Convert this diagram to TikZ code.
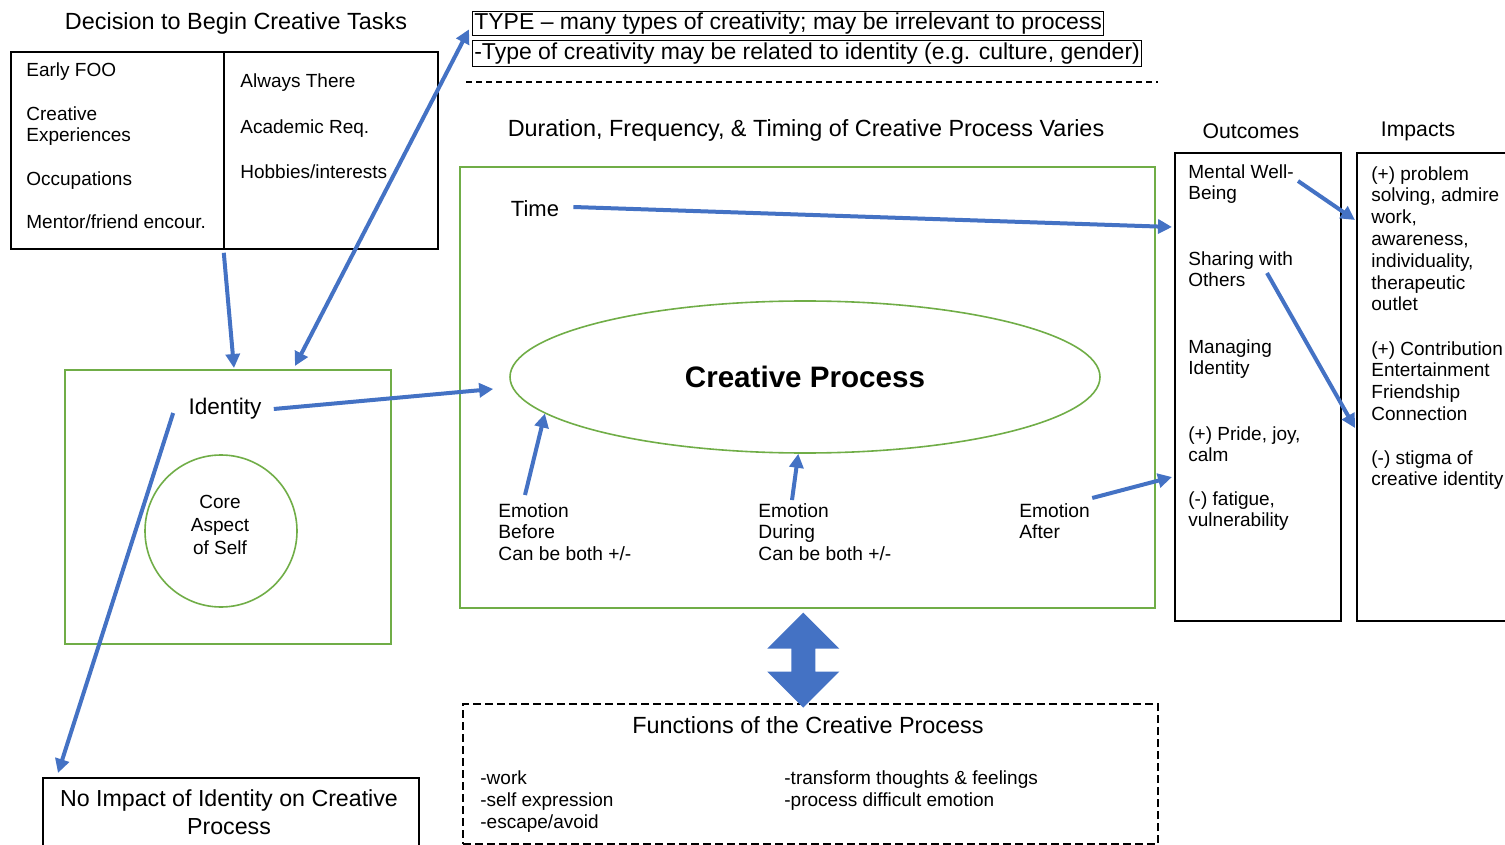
\documentclass[tikz,border=0pt]{standalone}
\usepackage{fontspec}
\setmainfont{Liberation Sans}
\usetikzlibrary{arrows.meta,calc,shapes.geometric}
\definecolor{arrowblue}{RGB}{68,114,196}
\definecolor{boxgreen}{RGB}{112,173,71}
\begin{document}
\begin{tikzpicture}[x=0.5pt,y=-0.5pt,
  sized/.style 2 args={minimum width=#1*0.5pt, minimum height=#2*0.5pt},
  blackbox/.style={draw=black, line width=0.9pt, anchor=north west, inner sep=0pt},
  greenbox/.style={draw=boxgreen, line width=0.8pt, anchor=north west, inner sep=0pt},
  head/.style={font=\fontsize{11.7}{14}\selectfont, inner sep=0pt},
  colhead/.style={font=\fontsize{10.6}{12.6}\selectfont, inner sep=0pt},
  item/.style={font=\fontsize{9.5}{10.9}\selectfont, anchor=north west, inner sep=0pt, align=left},
  typebox/.style={draw=black, line width=0.7pt, anchor=north west, inner xsep=0.8pt, inner ysep=0pt,
    font=\fontsize{11.5}{13}\selectfont},
  flow/.style={draw=arrowblue, line width=2pt, -{Triangle[length=7pt,width=7pt]}},
  flowboth/.style={draw=arrowblue, line width=2pt, {Triangle[length=7pt,width=7pt]}-{Triangle[length=7pt,width=7pt]}},
]
\useasboundingbox (0,0) rectangle (1505,845);
\clip (0,0) rectangle (1505,845);

% ---- decision to begin creative tasks ----
\node[head] (dectitle) at (236,23) {Decision to Begin Creative Tasks};
\node[blackbox, sized={213}{197}] (leftbox) at (10,51) {};
\node[blackbox, sized={214}{197}] (rightbox) at (223,51) {};
\node[item] (foo) at (26,62) {Early FOO};
\node[item] (crexp) at (26,106) {Creative\\Experiences};
\node[item] (occ) at (26,171) {Occupations};
\node[item] (mentor) at (26,214) {Mentor/friend encour.};
\node[item] (always) at (240,73) {Always There};
\node[item] (acad) at (240,119) {Academic Req.};
\node[item] (hobby) at (240,164) {Hobbies/interests};

% ---- type of creativity ----
\node[typebox, minimum height=12pt] (type1) at (472,11)
  {TYPE – many types of creativity; may be irrelevant to process};
\node[typebox, minimum height=13pt] (type2) at (472,40)
  {-Type of creativity may be related to identity (e.g. culture, gender)};
\coordinate (dashL) at (466,82);
\coordinate (dashR) at (1158,82);
\draw[line width=1pt, dash pattern=on 3pt off 2pt] (dashL) -- (dashR);

% ---- creative process ----
\node[head] (duration) at (806,130) {Duration, Frequency, \& Timing of Creative Process Varies};
\node[greenbox, sized={695}{441}] (mainbox) at (459,166) {};
\node[font=\fontsize{11}{13}\selectfont, inner sep=0pt] (time) at (535,209) {Time};
\node[draw=boxgreen, line width=0.8pt, ellipse, inner sep=0pt, sized={590}{152},
  font=\bfseries\fontsize{14.8}{16}\selectfont] (cp) at (805,377) {Creative Process};
\node[item, font=\fontsize{9.6}{10.75}\selectfont] (embefore) at (498,503) {Emotion\\Before\\Can be both +/-};
\node[item, font=\fontsize{9.6}{10.75}\selectfont] (emduring) at (758,503) {Emotion\\During\\Can be both +/-};
\node[item, font=\fontsize{9.6}{10.75}\selectfont] (emafter) at (1019,503) {Emotion\\After};

% ---- identity ----
\node[greenbox, sized={326}{274}] (idbox) at (64,369) {};
\node[font=\fontsize{11.3}{13}\selectfont, inner sep=0pt] (identity) at (225,409) {Identity};
\node[draw=boxgreen, line width=0.8pt, circle, inner sep=0pt, minimum size=76pt] (core) at (221,531) {};
\node[font=\fontsize{9.5}{11.7}\selectfont, align=center, inner sep=0pt] (corelabel) at (220,525) {Core\\Aspect\\of Self};
\node[blackbox, sized={376}{90}] (noimp) at (42,777) {};
\node[font=\fontsize{11.6}{14}\selectfont, align=center, inner sep=0pt] (noimplabel) at (229,812)
  {No Impact of Identity on Creative\\Process};

% ---- functions ----
\node[draw=black, line width=1pt, dash pattern=on 4pt off 2pt, anchor=north west, inner sep=0pt,
  sized={695}{140}] (funcbox) at (462,703) {};
\node[head] (functitle) at (808,725) {Functions of the Creative Process};
\node[item, font=\fontsize{9.5}{11.2}\selectfont] (funcleft) at (480,770) {-work\\-self expression\\-escape/avoid};
\node[item, font=\fontsize{9.5}{11.2}\selectfont] (funcright) at (784,770) {-transform thoughts \& feelings\\-process difficult emotion};

% block arrow between the process box and its functions
\coordinate (bt) at ($(mainbox.south)+(-4,4)$);
\fill[arrowblue] (bt) -- ++(36,36) -- ++(-24,0) -- ++(0,23) -- ++(24,0) -- ++(-36,36)
  -- ++(-36,-36) -- ++(24,0) -- ++(0,-23) -- ++(-24,0) -- cycle;

% ---- outcomes and impacts ----
\node[colhead] (outtitle) at (1251,131) {Outcomes};
\node[colhead] (imptitle) at (1418,131) {Impacts};
\node[blackbox, sized={166}{468}] (outbox) at (1174,152) {};
\node[blackbox, sized={170}{468}] (impbox) at (1356,152) {};
\node[item] (mwb) at (1188,164) {Mental Well-\\Being};
\node[item] (share) at (1188,251) {Sharing with\\Others};
\node[item] (manage) at (1188,339) {Managing\\Identity};
\node[item] (pride) at (1188,426) {(+) Pride, joy,\\calm};
\node[item] (fatigue) at (1188,491) {(-) fatigue,\\vulnerability};
\node[item] (imp1) at (1371,166) {(+) problem\\solving, admire\\work,\\awareness,\\individuality,\\therapeutic\\outlet};
\node[item] (imp2) at (1371,341) {(+) Contribution\\Entertainment\\Friendship\\Connection};
\node[item] (imp3) at (1371,450) {(-) stigma of\\creative identity};

% ---- connectors ----
\draw[flow] ($(leftbox.south east)+(-1,3)$) -- ($(idbox.north west)+(170,-1)$);
\draw[flowboth] ($(idbox.north west)+(231,-3)$) -- ($(type1.south west)+(-3,-7)$);
\draw[flow] ($(identity.east)+(12,0)$) -- ($(cp.west)+(-16,12)$);
\draw[flow] ($(identity.west)+(-15,4)$) -- ($(noimp.north west)+(16,-4)$);
\draw[flow] ($(time.east)+(14,-2)$) -- ($(outbox.north west)+(-2,75)$);
\draw[flow] ($(embefore.north west)+(27,-8)$) -- (cp.188);
\draw[flow] ($(emduring.north west)+(34,-3)$) -- (cp.265);
\draw[flow] ($(emafter.north east)+(2,-5)$) -- ($(outbox.north west)+(-2,325)$);
\draw[flow] ($(mwb.north east)+(4,17)$) -- ($(impbox.north west)+(-1,68)$);
\draw[flow] ($(share.north west)+(79,22)$) -- ($(impbox.north west)+(-1,276)$);
\end{tikzpicture}
\end{document}
